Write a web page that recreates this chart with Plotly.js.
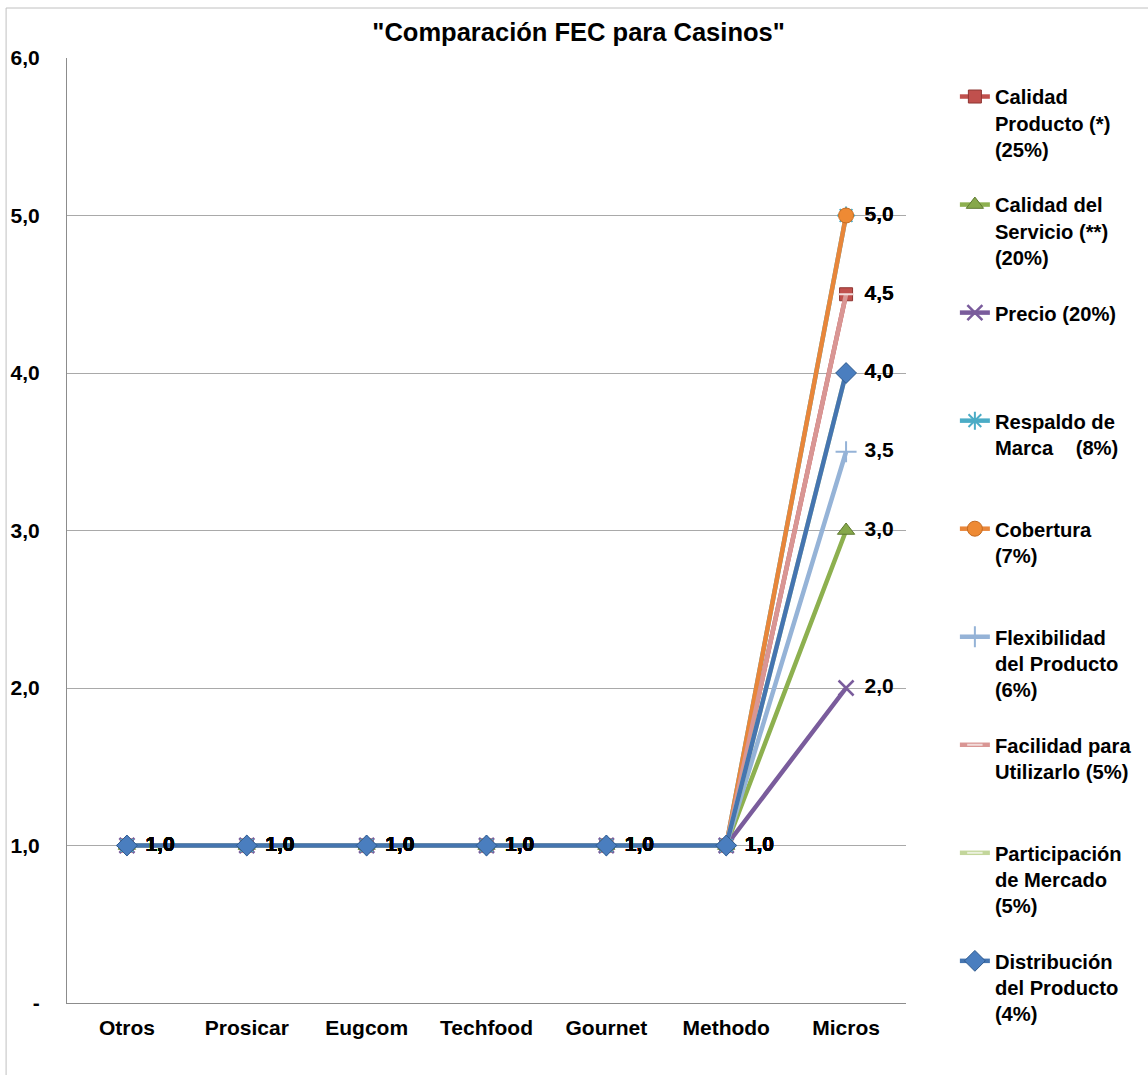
<!DOCTYPE html>
<html>
<head>
<meta charset="utf-8">
<script src="https://cdn.plot.ly/plotly-3.0.1.min.js"></script>
<style>
  html, body { margin: 0; padding: 0; background: #ffffff; }
  #chart { width: 1148px; height: 1075px; }
</style>
</head>
<body>
<div id="chart"></div>
<script>
// Empresas comparadas (eje X)
const empresas = ["Otros", "Prosicar", "Eugcom", "Techfood", "Gournet", "Methodo", "Micros"];

// Puntaje de cada factor clave de éxito por empresa
const calidadProducto   = [1, 1, 1, 1, 1, 1, 4.5];
const calidadServicio   = [1, 1, 1, 1, 1, 1, 3.0];
const precio            = [1, 1, 1, 1, 1, 1, 2.0];
const respaldoMarca     = [1, 1, 1, 1, 1, 1, 5.0];
const cobertura         = [1, 1, 1, 1, 1, 1, 5.0];
const flexibilidad      = [1, 1, 1, 1, 1, 1, 3.5];
const facilidadUso      = [1, 1, 1, 1, 1, 1, 4.5];
const participacion     = [1, 1, 1, 1, 1, 1, 4.0];
const distribucion      = [1, 1, 1, 1, 1, 1, 4.0];

// Nombres de los factores con su ponderación
const nombresFactores = [
  "Calidad<br>Producto (*)<br>(25%)",
  "Calidad del<br>Servicio (**)<br>(20%)",
  "Precio (20%)",
  "Respaldo de<br>Marca\u00a0\u00a0\u00a0\u00a0(8%)",
  "Cobertura<br>(7%)",
  "Flexibilidad<br>del Producto<br>(6%)",
  "Facilidad para<br>Utilizarlo (5%)",
  "Participación<br>de Mercado<br>(5%)",
  "Distribución<br>del Producto<br>(4%)"
];

// Marcas del eje Y
const valoresY = [0, 1, 2, 3, 4, 5, 6];
const etiquetasY = ["-", "1,0", "2,0", "3,0", "4,0", "5,0", "6,0"];

const series = [
  calidadProducto, calidadServicio, precio, respaldoMarca, cobertura,
  flexibilidad, facilidadUso, participacion, distribucion
];

// Estilo de cada serie: color de línea y marcador
const estilos = [
  { color: "#C0504D", marker: { symbol: "square", size: 13, color: "#C0504D", line: { color: "#8E3431", width: 1 } } },
  { color: "#8DB04F", marker: { symbol: "triangle-up", size: 15, color: "#86A84A", line: { color: "#5E7A30", width: 1 } } },
  { color: "#7A5C9C", marker: { symbol: "x-thin-open", size: 15, color: "#7A5C9C", line: { color: "#7A5C9C", width: 2.5 } } },
  { color: "#4BACC6", marker: { symbol: "asterisk-open", size: 15, color: "#4BACC6", line: { color: "#4BACC6", width: 2 } } },
  { color: "#E8863A", marker: { symbol: "circle", size: 15, color: "#EE8A34", line: { color: "#C46A20", width: 1 } } },
  { color: "#95B3D7", marker: { symbol: "cross-thin-open", size: 15, color: "#95B3D7", line: { color: "#95B3D7", width: 2 } } },
  { color: "#D99694", marker: { symbol: "line-ew-open", size: 11, color: "#F2DCDB", line: { color: "#F2DCDB", width: 2 } } },
  { color: "#C3D69B", marker: { symbol: "line-ew-open", size: 11, color: "#EBF1DE", line: { color: "#EBF1DE", width: 2 } } },
  { color: "#4575B0", marker: { symbol: "diamond", size: 16, color: "#4A7EBF", line: { color: "#2F5A8E", width: 1 } } }
];

// Las entradas cortas se rellenan hasta 4 renglones para un espaciado uniforme en la leyenda
// (la última entrada no necesita relleno)
function rellenar(texto, esUltima) {
  if (esUltima) return texto;
  const n = texto.split("<br>").length;
  let t = texto;
  for (let i = n; i < 4; i++) t += "<br>\u00a0";
  return t;
}

const fuente = "Liberation Sans, Arial, sans-serif";

const trazas = [];
series.forEach((valores, i) => {
  trazas.push({
    type: "scatter",
    mode: "lines+markers",
    x: empresas,
    y: valores,
    name: rellenar(nombresFactores[i], i === series.length - 1),
    line: { color: estilos[i].color, width: 4.5 },
    marker: estilos[i].marker,
    cliponaxis: false
  });
});

// Etiquetas de valor de cada punto (marcador invisible para separar el texto del punto)
series.forEach((valores) => {
  trazas.push({
    type: "scatter",
    mode: "markers+text",
    x: empresas,
    y: valores,
    texttemplate: "%{y:.1f}",
    textposition: "middle right",
    marker: { size: 28, opacity: 0 },
    textfont: { family: fuente, size: 21, color: "#000000", weight: "bold" },
    showlegend: false,
    hoverinfo: "skip",
    cliponaxis: false
  });
});

const layout = {
  width: 1148,
  height: 1075,
  margin: { l: 67, r: 241, t: 58, b: 72 },
  paper_bgcolor: "#ffffff",
  plot_bgcolor: "#ffffff",
  separators: ",.",
  font: { family: fuente, color: "#000000" },
  title: {
    text: "<b>\"Comparación FEC para Casinos\"</b>",
    font: { family: fuente, size: 25.5, color: "#000000" },
    x: 0.504, xref: "container", xanchor: "center",
    y: 0.970, yref: "container", yanchor: "middle"
  },
  xaxis: {
    type: "category",
    range: [-0.5, 6.5],
    showgrid: false,
    showline: true,
    linecolor: "#8c8c8c",
    linewidth: 1,
    ticks: "",
    ticklabelstandoff: 6,
    tickfont: { family: fuente, size: 21, color: "#000000", weight: "bold" },
    zeroline: false,
    fixedrange: true
  },
  yaxis: {
    range: [0, 6],
    tickvals: valoresY,
    ticktext: etiquetasY,
    showgrid: true,
    gridcolor: "#a9a9a9",
    gridwidth: 1,
    showline: true,
    linecolor: "#8c8c8c",
    linewidth: 1,
    ticks: "",
    ticklabelstandoff: 22,
    tickfont: { family: fuente, size: 21, color: "#000000", weight: "bold" },
    zeroline: false,
    fixedrange: true
  },
  legend: {
    x: 1.057, xanchor: "left",
    y: 0.980, yanchor: "top",
    valign: "top",
    traceorder: "normal",
    maxheight: 1100,
    bgcolor: "rgba(0,0,0,0)",
    borderwidth: 0,
    font: { family: fuente, size: 20.2, color: "#000000", weight: "bold" }
  },
  shapes: [
    {
      type: "rect", xref: "paper", yref: "paper",
      x0: -0.0726, x1: 1.6, y0: -0.3, y1: 1.0529,
      line: { color: "#c0c0c0", width: 1 },
      fillcolor: "rgba(0,0,0,0)",
      layer: "below"
    }
  ],
  showlegend: true
};

Plotly.newPlot("chart", trazas, layout, { displayModeBar: false, staticPlot: true });
</script>
</body>
</html>
